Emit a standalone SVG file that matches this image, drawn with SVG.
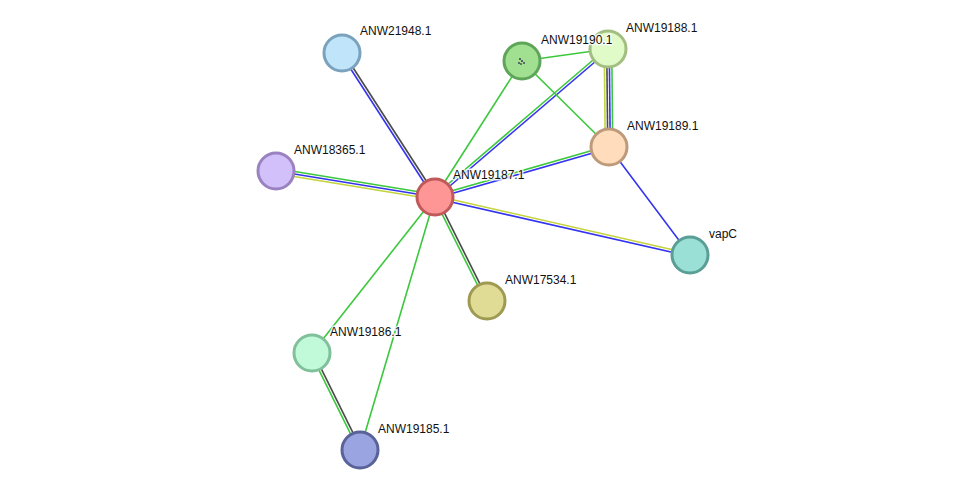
<svg xmlns="http://www.w3.org/2000/svg" width="976" height="496" viewBox="0 0 976 496">
<style>
.e{stroke-width:1.6;fill:none}
.g{stroke:#3cc83c}
.b{stroke:#3434f0}
.k{stroke:#4a4a4a}
.y{stroke:#c4d43c}
.n{stroke-width:3}
.t{font-family:"Liberation Sans",Arial,sans-serif;font-size:12px;fill:#111;stroke:#fff;stroke-width:3;stroke-opacity:0.8;paint-order:stroke;stroke-linejoin:round}
</style>
<rect width="976" height="496" fill="#fff"/>
<g id="edges">
<line class="e k" x1="343.1" y1="52.3" x2="436.1" y2="196.3"/>
<line class="e b" x1="340.9" y1="53.7" x2="433.9" y2="197.7"/>
<line class="e g" x1="276.4" y1="168.5" x2="435.4" y2="194.5"/>
<line class="e b" x1="276" y1="171" x2="435" y2="197"/>
<line class="e y" x1="275.6" y1="173.5" x2="434.6" y2="199.5"/>
<line class="e g" x1="434.15" y1="196" x2="607.15" y2="48"/>
<line class="e b" x1="435.85" y1="198" x2="608.85" y2="50"/>
<line class="e g" x1="434.64" y1="195.75" x2="608.64" y2="145.75"/>
<line class="e b" x1="435.36" y1="198.25" x2="609.36" y2="148.25"/>
<line class="e y" x1="435.29" y1="195.73" x2="690.29" y2="253.73"/>
<line class="e b" x1="434.71" y1="198.27" x2="689.71" y2="256.27"/>
<line class="e k" x1="436.16" y1="196.42" x2="488.16" y2="300.42"/>
<line class="e g" x1="433.84" y1="197.58" x2="485.84" y2="301.58"/>
<line class="e k" x1="313.16" y1="352.42" x2="361.16" y2="449.42"/>
<line class="e g" x1="310.84" y1="353.58" x2="358.84" y2="450.58"/>
<line class="e y" x1="604.25" y1="49" x2="605.25" y2="147"/>
<line class="e k" x1="606.75" y1="49" x2="607.75" y2="147"/>
<line class="e b" x1="609.25" y1="49" x2="610.25" y2="147"/>
<line class="e g" x1="611.75" y1="49" x2="612.75" y2="147"/>
<line class="e g" x1="435" y1="197" x2="522" y2="61"/>
<line class="e g" x1="435" y1="197" x2="312" y2="353"/>
<line class="e g" x1="435" y1="197" x2="360" y2="450"/>
<line class="e g" x1="522" y1="61" x2="608" y2="49"/>
<line class="e g" x1="522" y1="61" x2="609" y2="147"/>
<line class="e b" x1="609" y1="147" x2="690" y2="255"/>
</g>
<g id="ANW19188.1"><circle class="n" cx="608" cy="49" r="18" fill="#e0fac8" stroke="#a2be80"/><text class="t" x="626" y="32">ANW19188.1</text></g>
<g id="ANW19187.1"><circle class="n" cx="435" cy="197" r="18" fill="#fe9696" stroke="#c05a5a"/><text class="t" x="453" y="179">ANW19187.1</text></g>
<g id="ANW21948.1"><circle class="n" cx="342" cy="53" r="18" fill="#c0e4fa" stroke="#7aa2bd"/><text class="t" x="360" y="35">ANW21948.1</text></g>
<g id="ANW19190.1"><circle class="n" cx="522" cy="61" r="18" fill="#a0e090" stroke="#5ea55a"/>
<g fill="#445" stroke="none"><circle cx="520" cy="59" r="1.1"/><circle cx="522" cy="61" r="1.1"/><circle cx="519" cy="63" r="1"/><circle cx="524" cy="63" r="1"/><circle cx="521" cy="64" r="0.9"/></g>
<text class="t" x="541" y="44">ANW19190.1</text></g>
<g id="ANW19189.1"><circle class="n" cx="609" cy="147" r="18" fill="#fedcbc" stroke="#bd9a7a"/><text class="t" x="627" y="130">ANW19189.1</text></g>
<g id="ANW18365.1"><circle class="n" cx="276" cy="171" r="18" fill="#d2c0fa" stroke="#9a82c0"/><text class="t" x="294" y="154">ANW18365.1</text></g>
<g id="vapC"><circle class="n" cx="690" cy="255" r="18" fill="#9ae0d6" stroke="#5a9e96"/><text class="t" x="709" y="238">vapC</text></g>
<g id="ANW17534.1"><circle class="n" cx="487" cy="301" r="18" fill="#e0dc96" stroke="#9e9a52"/><text class="t" x="505" y="284">ANW17534.1</text></g>
<g id="ANW19186.1"><circle class="n" cx="312" cy="353" r="18" fill="#c0fad8" stroke="#80c09a"/><text class="t" x="330" y="336">ANW19186.1</text></g>
<g id="ANW19185.1"><circle class="n" cx="360" cy="450" r="18" fill="#9aa4e0" stroke="#5a629a"/><text class="t" x="378" y="433">ANW19185.1</text></g>
</svg>
